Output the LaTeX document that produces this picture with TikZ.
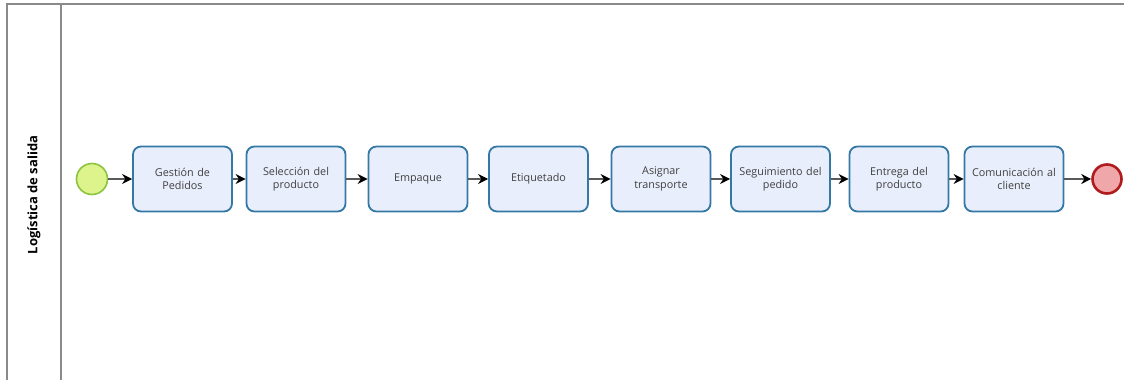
\documentclass[tikz,border=0pt]{standalone}
\usepackage{fontspec}
\setmainfont{Open Sans}
\usetikzlibrary{arrows.meta}
\definecolor{poolline}{HTML}{8A8A8A}
\definecolor{taskfill}{HTML}{E8EEFB}
\definecolor{taskdraw}{HTML}{3478A6}
\definecolor{startfill}{HTML}{DDF38C}
\definecolor{startdraw}{HTML}{8CC43F}
\definecolor{endfill}{HTML}{EFA7A9}
\definecolor{enddraw}{HTML}{B11B1E}
\definecolor{txt}{HTML}{404040}
\tikzset{
  task/.style={draw=taskdraw, fill=taskfill, line width=1.8pt, rounded corners=8pt,
    minimum width=97pt, minimum height=65pt, inner sep=2pt, align=center,
    text width=95pt, font=\fontsize{10.8}{13.5}\selectfont, text=txt},
  startev/.style={circle, draw=startdraw, fill=startfill, line width=1.6pt, minimum size=31pt, inner sep=0pt},
  endev/.style={circle, draw=enddraw, fill=endfill, line width=2.6pt, minimum size=29pt, inner sep=0pt},
  flow/.style={draw=black!65, line width=1.2pt, -{Stealth[length=10pt,width=10pt,color=black]}},
  pool/.style={draw=poolline, line width=1.8pt}
}
\begin{document}
\begin{tikzpicture}[x=1pt,y=-1pt]
\useasboundingbox (0,0) rectangle (1124,380);
% pool
\draw[pool] (7,381) -- (7,4) -- (1125,4);
\draw[pool] (61,4) -- (61,381);
\node[rotate=90, font=\bfseries\fontsize{13}{15}\selectfont, text=black] (lane) at (34,195) {Logística de salida};
% events
\node[startev] (s) at (92,179) {};
\node[endev] (e) at (1107,179) {};
% tasks
\node[task] (t1) at (182.5,179) {Gestión de\\Pedidos};
\node[task] (t2) at (296,179) {Selección del\\producto};
\node[task] (t3) at (418,179) {Empaque};
\node[task] (t4) at (538.5,179) {Etiquetado};
\node[task] (t5) at (661,179) {Asignar\\transporte};
\node[task] (t6) at (780.5,179) {Seguimiento del\\pedido};
\node[task] (t7) at (899,179) {Entrega del\\producto};
\node[task] (t8) at (1014,179) {Comunicación al\\cliente};
% flows
\draw[flow] (s) -- (t1);
\draw[flow] (t1) -- (t2);
\draw[flow] (t2) -- (t3);
\draw[flow] (t3) -- (t4);
\draw[flow] (t4) -- (t5);
\draw[flow] (t5) -- (t6);
\draw[flow] (t6) -- (t7);
\draw[flow] (t7) -- (t8);
\draw[flow] (t8) -- (e);
\end{tikzpicture}
\end{document}
